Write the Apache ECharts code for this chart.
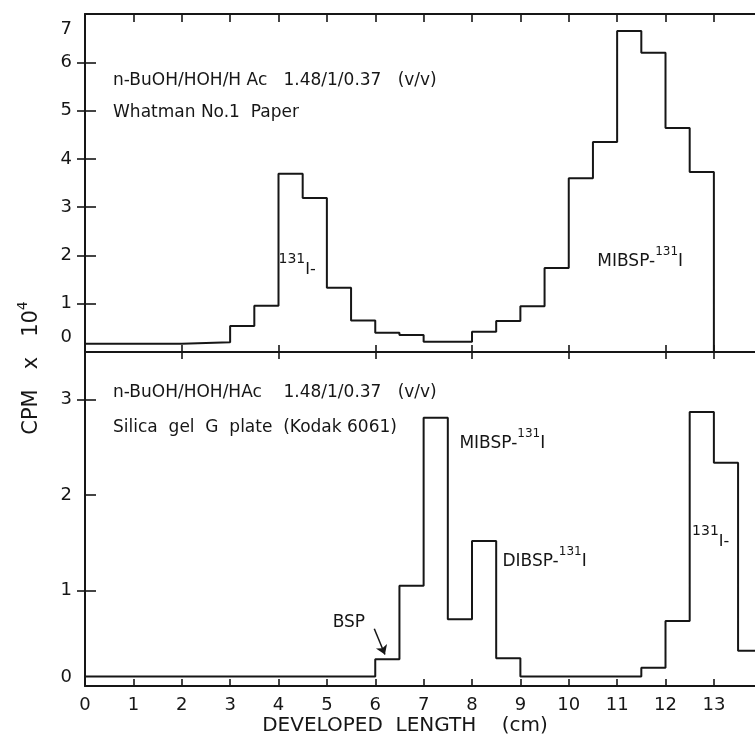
<!DOCTYPE html>
<html>
<head>
<meta charset="utf-8">
<script src="https://cdn.jsdelivr.net/npm/echarts@6/dist/echarts.min.js"></script>
<style>html,body{margin:0;padding:0;background:#fff}#c{width:755px;height:751px}</style>
</head>
<body>
<div id="c"></div>
<script>
// ---- data ----
const xTickLabels = ['0','1','2','3','4','5','6','7','8','9','10','11','12','13'];
const topYTickLabels = ['0','1','2','3','4','5','6','7'];
const botYTickLabels = ['0','1','2','3'];

// top panel: Whatman No.1 paper (bin start edges, cm) and CPM x 10^4
const topEdges = [0, 2, 3, 3.5, 4, 4.5, 5, 5.5, 6, 6.5, 7, 8, 8.5, 9, 9.5, 10, 10.5, 11, 11.5, 12, 12.5, 13];
const topCpm   = [0.17, 0.2, 0.54, 0.96, 3.69, 3.19, 1.33, 0.65, 0.4, 0.35, 0.21, 0.42, 0.64, 0.95, 1.74, 3.6, 4.35, 6.65, 6.2, 4.64, 3.73, 0];

// bottom panel: Silica gel G plate
const botEdges = [0, 6, 6.5, 7, 7.5, 8, 8.5, 9, 11.5, 12, 12.5, 13, 13.5, 14];
const botCpm   = [0.1, 0.28, 1.05, 2.81, 0.7, 1.52, 0.29, 0.1, 0.19, 0.68, 2.87, 2.34, 0.37, 0.37];

// ---- chart ----
const FONT = 'DejaVu Sans';
const INK = '#161616';
const pairs = (e, v) => e.map((x, i) => [x, v[i]]);

const chart = echarts.init(document.getElementById('c'), null, {renderer: 'canvas'});

const axisLine = {show: true, onZero: false, lineStyle: {color: INK, width: 2}};
const noLabel = {show: false};
const noSplit = {show: false};

function tick(len, vals) {
  return {show: true, inside: true, length: len, lineStyle: {color: INK, width: 1.6}, customValues: vals};
}
const allX = xTickLabels.map(Number);
const midX = [2, 4, 6, 8, 10, 12, 13];

function note(coord, text, rich) {
  return {
    coord: coord,
    symbol: 'circle', symbolSize: 0,
    label: {show: true, position: 'right', distance: 0, formatter: text,
            fontFamily: FONT, fontSize: 17, color: INK, rich: rich || {}}
  };
}
const supRich = {
  a: {fontFamily: FONT, fontSize: 17, color: INK, verticalAlign: 'bottom', lineHeight: 24},
  s: {fontFamily: FONT, fontSize: 12, color: INK, verticalAlign: 'top', lineHeight: 24}
};
const isoRich = {
  a: {fontFamily: FONT, fontSize: 16, color: INK, verticalAlign: 'bottom', lineHeight: 26},
  s: {fontFamily: FONT, fontSize: 14, color: INK, verticalAlign: 'top', lineHeight: 26}
};

const option = {
  animation: false,
  backgroundColor: '#fff',
  grid: [
    {left: 85, right: 0, top: 14, height: 338},
    {left: 85, right: 0, top: 352, height: 334}
  ],
  xAxis: [
    {gridIndex: 0, type: 'value', min: 0, max: 13.85, position: 'bottom',
     axisLine: axisLine, axisTick: tick(7, midX), axisLabel: noLabel, splitLine: noSplit},
    {gridIndex: 0, type: 'value', min: 0, max: 13.85, position: 'top',
     axisLine: axisLine, axisTick: tick(8, allX.slice(1)), axisLabel: noLabel, splitLine: noSplit},
    {gridIndex: 1, type: 'value', min: 0, max: 13.85, position: 'bottom',
     axisLine: axisLine, axisTick: tick(7, allX.slice(1)),
     axisLabel: {show: true, customValues: allX, formatter: v => xTickLabels[Math.round(v)],
                 fontFamily: FONT, fontSize: 18, color: INK, margin: 10},
     splitLine: noSplit,
     name: 'DEVELOPED  LENGTH    (cm)', nameLocation: 'middle', nameGap: 30,
     nameTextStyle: {fontFamily: FONT, fontSize: 20, color: INK, padding: [0, 30, 0, 0]}},
    {gridIndex: 1, type: 'value', min: 0, max: 13.85, position: 'top',
     axisLine: axisLine, axisTick: tick(7, midX), axisLabel: noLabel, splitLine: noSplit}
  ],
  yAxis: [
    {gridIndex: 0, type: 'value', min: 0, max: 7, position: 'left',
     axisLine: axisLine, axisTick: tick(11, [1, 2, 3, 4, 5, 6]),
     axisLabel: {show: true, customValues: [0.31, 1, 2, 3, 4, 5, 6, 6.69],
                 formatter: v => topYTickLabels[Math.round(v)],
                 fontFamily: FONT, fontSize: 18, color: INK, margin: 13},
     splitLine: noSplit},
    {gridIndex: 0, type: 'value', min: 0, max: 7, position: 'right',
     axisLine: {show: false}, axisTick: tick(8, [1, 2, 3, 4, 5, 6]), axisLabel: noLabel, splitLine: noSplit},
    {gridIndex: 1, type: 'value', min: 0, max: 3.5, position: 'left',
     axisLine: axisLine, axisTick: tick(11, [1, 2, 3]),
     axisLabel: {show: true, customValues: [0.094, 1, 2, 3],
                 formatter: v => botYTickLabels[Math.round(v)],
                 fontFamily: FONT, fontSize: 18, color: INK, margin: 13},
     splitLine: noSplit},
    {gridIndex: 1, type: 'value', min: 0, max: 3.5, position: 'right',
     axisLine: {show: false}, axisTick: tick(8, [1, 3]), axisLabel: noLabel, splitLine: noSplit}
  ],
  series: [
    {
      type: 'line', xAxisIndex: 0, yAxisIndex: 0, step: 'end', symbol: 'none',
      lineStyle: {color: INK, width: 2}, data: pairs(topEdges, topCpm),
      markPoint: {silent: true, data: [
        note([0.58, 5.63], 'n-BuOH/HOH/H Ac   1.48/1/0.37   (v/v)'),
        note([0.58, 4.95], 'Whatman No.1  Paper'),
        note([4.0, 1.8], '{s|131}{a|I-}', isoRich),
        note([10.59, 1.95], '{a|MIBSP-}{s|131}{a|I}', supRich)
      ]}
    },
    {
      type: 'line', xAxisIndex: 2, yAxisIndex: 2, step: 'end', symbol: 'none',
      lineStyle: {color: INK, width: 2}, data: pairs(botEdges, botCpm),
      markPoint: {silent: true, data: [
        note([0.58, 3.08], 'n-BuOH/HOH/HAc    1.48/1/0.37   (v/v)'),
        note([0.58, 2.71], 'Silica  gel  G  plate  (Kodak 6061)'),
        note([7.74, 2.58], '{a|MIBSP-}{s|131}{a|I}', supRich),
        note([8.63, 1.34], '{a|DIBSP-}{s|131}{a|I}', supRich),
        note([12.55, 1.56], '{s|131}{a|I-}', isoRich),
        note([5.12, 0.66], 'BSP')
      ]},
      markLine: {silent: true, symbol: ['none', 'arrow'], symbolSize: 9,
        label: {show: false},
        lineStyle: {color: INK, width: 1.5, type: 'solid', curveness: -0.25},
        data: [[{coord: [5.98, 0.6]}, {coord: [6.2, 0.33]}]]}
    }
  ],
  graphic: [
    {type: 'text', x: 29, y: 368, rotation: Math.PI / 2,
     style: {text: '{a|CPM   x   10}{b|4}', align: 'center', verticalAlign: 'middle',
             rich: {a: {fontFamily: FONT, fontSize: 21, fill: INK, verticalAlign: 'bottom', lineHeight: 26},
                    b: {fontFamily: FONT, fontSize: 14, fill: INK, verticalAlign: 'top', lineHeight: 26}}}}
  ]
};
chart.setOption(option);
</script>
</body>
</html>
